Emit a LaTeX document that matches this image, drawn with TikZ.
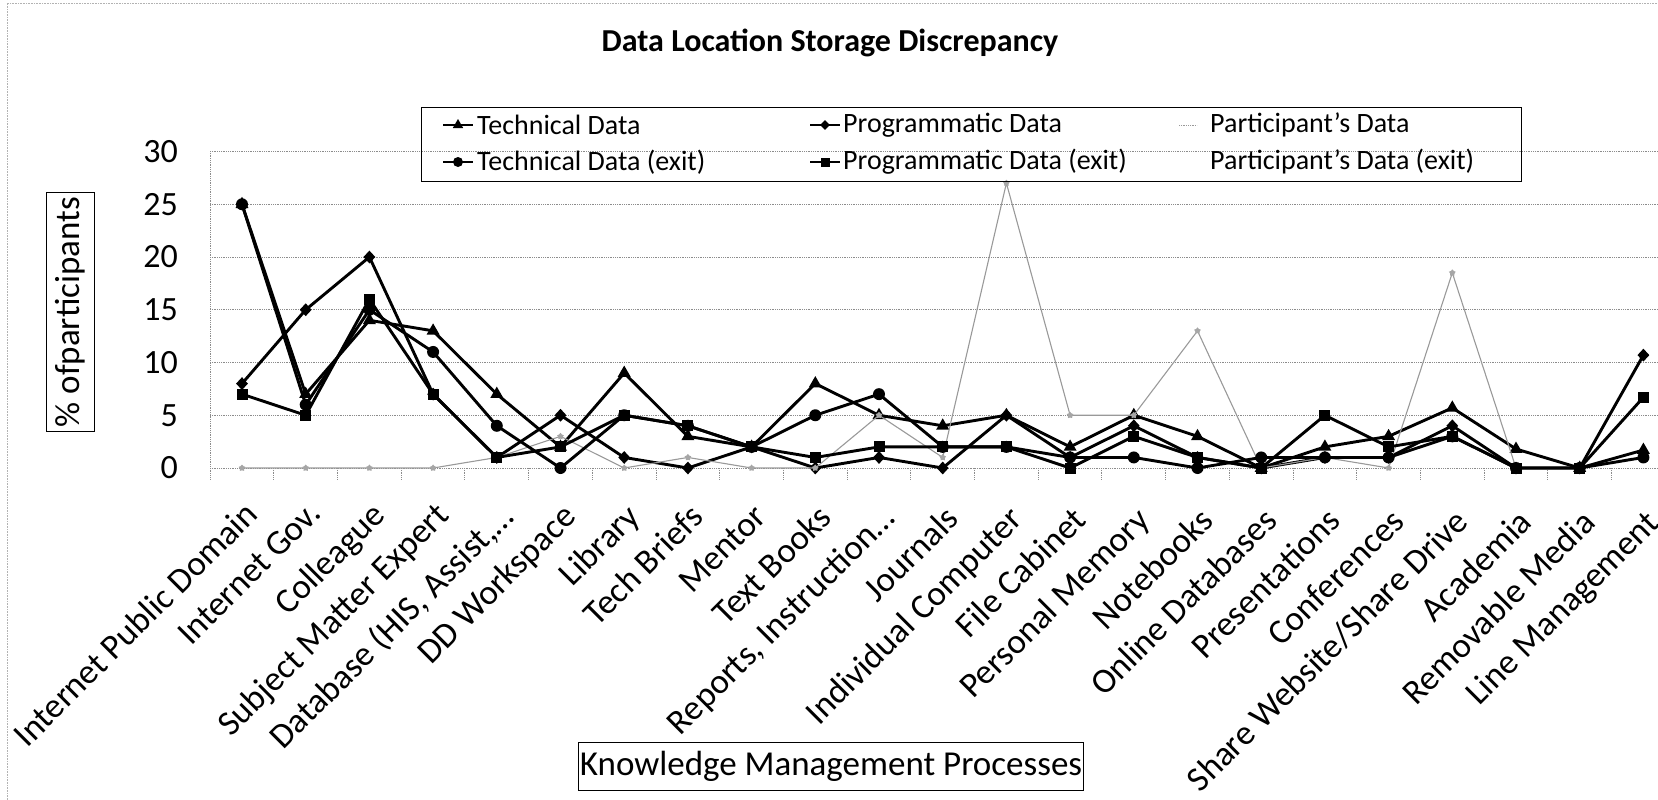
\documentclass[tikz,border=0pt]{standalone}
\usepackage{fontspec}
\setmainfont{Carlito}
\usetikzlibrary{shapes.geometric,calc}
\newcommand{\axfont}{\fontsize{35}{40}\selectfont}
\newcommand{\tkfont}{\fontsize{34}{40}\selectfont}
\newcommand{\lgfont}{\fontsize{28}{32}\selectfont}
\newcommand{\ttfont}{\fontsize{32}{36}\selectfont\bfseries}
\begin{document}
\begin{tikzpicture}[x=1pt,y=-1pt,
  ser/.style={line width=2.9pt, black, line join=round},
  gser/.style={line width=1.1pt, black!40, line join=round},
  gridl/.style={black!45, line width=0.8pt, densely dotted},
  tri/.style={regular polygon, regular polygon sides=3, fill=black, inner sep=0pt, minimum size=15pt},
  dia/.style={diamond, fill=black, inner sep=0pt, minimum width=12pt, minimum height=13pt},
  circ/.style={circle, fill=black, inner sep=0pt, minimum size=12pt},
  sqr/.style={rectangle, fill=black, inner sep=0pt, minimum size=11pt},
  gmk/.style={star, star points=5, fill=black!35, inner sep=0pt, minimum size=7pt},
  lbl/.style={inner sep=0pt, font=\axfont}
]
\useasboundingbox (0,0) rectangle (1658,800);
% chart area border (faint)
\draw[black!30, densely dotted, line width=0.6pt] (7,800) -- (7,3) -- (1658,3);
% title
\node[font=\ttfont] (title) at (830,43) {Data Location Storage Discrepancy};
% grid
\foreach \k in {0,...,6} {
  \draw[gridl] (210,{468-52.75*\k}) -- (1658,{468-52.75*\k});
  \pgfmathtruncatemacro{\lab}{5*\k}
  \node[inner sep=0pt, font=\tkfont, anchor=east] (yt\k) at (178,{468-52.75*\k}) {\lab};
}
\draw[gridl] (210,151) -- (210,480);
\foreach \k in {1,...,22} \draw[gridl] ({210+63.7*\k},468) -- ++(0,12);
% data coordinates
\foreach \v [count=\i from 0] in {25,7,14,13,7,2,9,3,2,8,5,4,5,2,5,3,0,2,3,5.7,1.8,0,1.7}
  \coordinate (T\i) at ({242+63.7*\i},{468-10.55*\v});
\foreach \v [count=\i from 0] in {8,15,20,7,1,5,1,0,2,0,1,0,5,1,4,1,0,1,1,4,0,0,10.7}
  \coordinate (P\i) at ({242+63.7*\i},{468-10.55*\v});
\foreach \v [count=\i from 0] in {0,0,0,0,1,3,0,1,0,0,5,1,27,5,5,13,0,1,0,18.5,0,0,1}
  \coordinate (G\i) at ({242+63.7*\i},{468-10.55*\v});
\foreach \v [count=\i from 0] in {25,6,15,11,4,0,5,4,2,5,7,2,2,1,1,0,1,1,1,3,0,0,1}
  \coordinate (E\i) at ({242+63.7*\i},{468-10.55*\v});
\foreach \v [count=\i from 0] in {7,5,16,7,1,2,5,4,2,1,2,2,2,0,3,1,0,5,2,3,0,0,6.7}
  \coordinate (Q\i) at ({242+63.7*\i},{468-10.55*\v});
% series
\draw[ser] (T0) \foreach \i in {1,...,22} { -- (T\i) };
\foreach \i in {0,...,22} \node[tri] (mT\i) at (T\i) {};
\draw[ser] (P0) \foreach \i in {1,...,22} { -- (P\i) };
\foreach \i in {0,...,22} \node[dia] (mP\i) at (P\i) {};
\draw[gser] (G0) \foreach \i in {1,...,22} { -- (G\i) };
\foreach \i in {0,...,22} \node[gmk] (mG\i) at (G\i) {};
\draw[ser] (E0) \foreach \i in {1,...,22} { -- (E\i) };
\foreach \i in {0,...,22} \node[circ] (mE\i) at (E\i) {};
\draw[ser] (Q0) \foreach \i in {1,...,22} { -- (Q\i) };
\foreach \i in {0,...,22} \node[sqr] (mQ\i) at (Q\i) {};
% category labels
\foreach \t [count=\i from 0] in {Internet Public Domain, Internet Gov., Colleague, Subject Matter Expert, {Database (HIS, Assist,…}, DD Workspace, Library, Tech Briefs, Mentor, Text Books, {Reports, Instruction…}, Journals, Individual Computer, File Cabinet, Personal Memory, Notebooks, Online Databases, Presentations, Conferences, Share Website/Share Drive, Academia, Removable Media, Line Management}
  \node[lbl, rotate=45, anchor=north east] (c\i) at ({242.5+63.7*\i},{499+0.4*\i}) {\t};
% axis titles
\node[draw, line width=0.8pt, font=\axfont, rotate=90, minimum width=239pt, minimum height=48pt, inner sep=0pt] (ytitle) at (70,312) {\% ofparticipants};
\node[draw, line width=0.8pt, font=\axfont, minimum width=505pt, minimum height=48pt, inner sep=0pt] (xtitle) at (831,766) {Knowledge Management Processes};
% legend
\node[draw, line width=0.8pt, anchor=north west, minimum width=1100pt, minimum height=74pt, inner sep=0pt] (legend) at (421,107) {};
\coordinate (l1a) at (443,125); \coordinate (l1b) at (473,125);
\coordinate (l2a) at (810,125); \coordinate (l2b) at (840,125);
\coordinate (l3a) at (1179,125); \coordinate (l3b) at (1197,125);
\coordinate (l4a) at (443,162); \coordinate (l4b) at (473,162);
\coordinate (l5a) at (810,162); \coordinate (l5b) at (840,162);
\draw[ser, line width=2pt] (l1a) -- (l1b); \node[tri, minimum size=12pt] (k1) at ($(l1a)!.5!(l1b)$) {};
\draw[ser, line width=2pt] (l2a) -- (l2b); \node[dia, minimum width=10pt, minimum height=10pt] (k2) at ($(l2a)!.5!(l2b)$) {};
\draw[gser, line width=0.8pt, densely dotted] (l3a) -- (l3b);
\draw[ser, line width=2pt] (l4a) -- (l4b); \node[circ, minimum size=10pt] (k4) at ($(l4a)!.5!(l4b)$) {};
\draw[ser, line width=2pt] (l5a) -- (l5b); \node[sqr, minimum size=9pt] (k5) at ($(l5a)!.5!(l5b)$) {};
\node[anchor=west, inner sep=0pt, font=\lgfont] (t1) at (477,125) {Technical Data};
\node[anchor=west, inner sep=0pt, font=\lgfont] (t2) at (843,125) {Programmatic Data};
\node[anchor=west, inner sep=0pt, font=\lgfont] (t3) at (1210,125) {Participant's Data};
\node[anchor=west, inner sep=0pt, font=\lgfont] (t4) at (477,162) {Technical Data (exit)};
\node[anchor=west, inner sep=0pt, font=\lgfont] (t5) at (843,162) {Programmatic Data (exit)};
\node[anchor=west, inner sep=0pt, font=\lgfont] (t6) at (1210,162) {Participant's Data (exit)};
\end{tikzpicture}
\end{document}
